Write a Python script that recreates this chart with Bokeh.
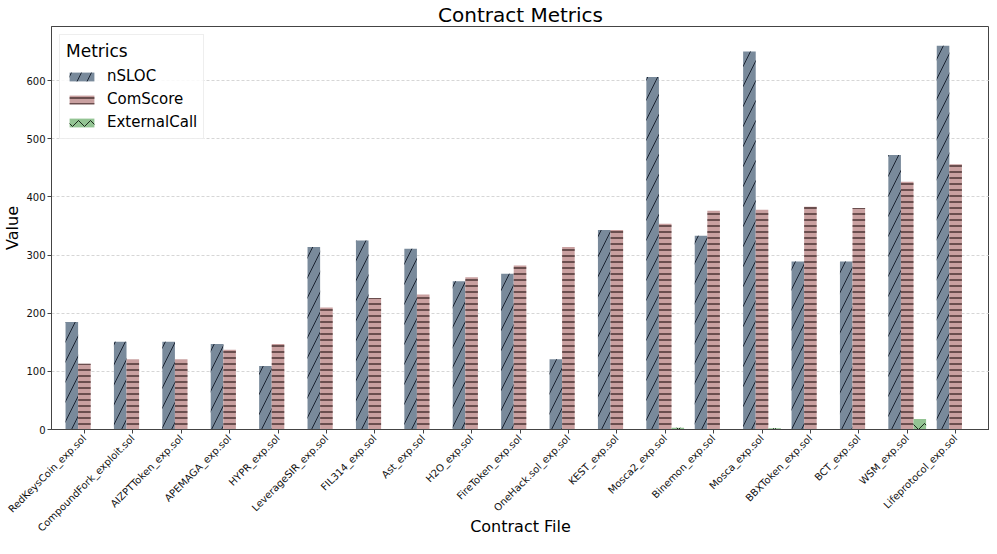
import math
from bokeh.plotting import figure
from bokeh.models import ColumnDataSource, FixedTicker, Range1d, Legend, LegendItem
from bokeh.transform import dodge
from bokeh.embed import file_html
from bokeh.resources import INLINE

files = ["RedKeysCoin_exp.sol", "CompoundFork_exploit.sol", "AIZPTToken_exp.sol",
         "APEMAGA_exp.sol", "HYPR_exp.sol", "LeverageSIR_exp.sol", "FIL314_exp.sol",
         "Ast_exp.sol", "H2O_exp.sol", "FireToken_exp.sol", "OneHack.sol_exp.sol",
         "KEST_exp.sol", "Mosca2_exp.sol", "Binemon_exp.sol", "Mosca_exp.sol",
         "BBXToken_exp.sol", "BCT_exp.sol", "WSM_exp.sol", "Lifeprotocol_exp.sol"]
nsloc = [185, 151, 151, 147, 109, 314, 325, 311, 255, 268, 121, 343, 606, 333, 650, 289, 289, 472, 660]
comscore = [113, 121, 121, 137, 147, 210, 226, 232, 262, 282, 314, 343, 354, 376, 378, 383, 381, 426, 456]
external = [0, 0, 0, 0, 0, 0, 0, 0, 0, 0, 0, 0, 3, 0, 2, 0, 0, 18, 0]
y_ticks = [0, 100, 200, 300, 400, 500, 600]

FONT = "DejaVu Sans"
w = 0.26
x0, x1 = -0.68, len(files) - 1 + 0.7

src = ColumnDataSource(dict(x=list(range(len(files))), nsloc=nsloc, comscore=comscore, external=external))

p = figure(width=989, height=538, output_backend="svg", toolbar_location=None,
           x_range=Range1d(x0, x1), y_range=Range1d(0, 693),
           title="Contract Metrics", min_border_right=0, min_border_top=0,
           min_border_left=0, min_border_bottom=0)

p.title.align = "center"
p.title.text_font = FONT
p.title.text_font_size = "20px"
p.title.text_font_style = "normal"
p.title.text_color = "#000000"
p.title.standoff = 0

r1 = p.vbar(x=dodge("x", -w, range=p.x_range), top="nsloc", width=w, source=src,
            fill_color="#798a9b", line_color=None,
            hatch_pattern="/", hatch_color="#1a2230", hatch_scale=20, hatch_weight=1)
r2 = p.vbar(x="x", top="comscore", width=w, source=src,
            fill_color="#c9a0a0", line_color=None,
            hatch_pattern="-", hatch_color="#2a1515", hatch_scale=6, hatch_weight=1.2)
r3 = p.vbar(x=dodge("x", w, range=p.x_range), top="external", width=w, source=src,
            fill_color="#93c493", line_color=None,
            hatch_pattern="v", hatch_color="#1a2a1a", hatch_scale=12, hatch_weight=1)

legend = Legend(items=[LegendItem(label="nSLOC", renderers=[r1]),
                       LegendItem(label="ComScore", renderers=[r2]),
                       LegendItem(label="ExternalCall", renderers=[r3])],
                location="top_left", title="Metrics", margin=8, padding=6,
                glyph_width=31, glyph_height=11, label_height=20, spacing=3,
                label_standoff=10, border_line_color="#dddddd", border_line_width=1,
                background_fill_alpha=0.85)
legend.title_text_font = FONT
legend.title_text_font_size = "17px"
legend.title_text_font_style = "normal"
legend.title_text_color = "#000000"
legend.label_text_font = FONT
legend.label_text_font_size = "15px"
legend.label_text_color = "#000000"
p.add_layout(legend)

p.xaxis.ticker = FixedTicker(ticks=list(range(len(files))))
p.xaxis.major_label_overrides = {i: f for i, f in enumerate(files)}
p.xaxis.major_label_orientation = math.pi / 4
p.xaxis.major_label_text_font = FONT
p.xaxis.major_label_text_font_size = "10px"
p.xaxis.axis_label = "Contract File"
p.yaxis.ticker = FixedTicker(ticks=y_ticks)
p.yaxis.major_label_text_font = FONT
p.yaxis.major_label_text_font_size = "10px"
p.yaxis.axis_label = "Value"

for ax in (p.xaxis, p.yaxis):
    ax.axis_label_text_font = FONT
    ax.axis_label_text_font_size = "16px"
    ax.axis_label_text_font_style = "normal"
    ax.minor_tick_line_color = None
    ax.major_tick_out = 4
    ax.major_tick_in = 0
    ax.axis_line_color = "#444444"
    ax.major_tick_line_color = "#444444"
    ax.major_label_text_color = "#111111"
    ax.axis_label_text_color = "#000000"
    ax.major_label_standoff = 3

p.yaxis.axis_label_standoff = 1
p.yaxis.major_label_standoff = 2
p.xaxis.axis_label_standoff = -24

p.xgrid.visible = False
p.ygrid.grid_line_color = "#cccccc"
p.ygrid.grid_line_dash = "3 2"
p.ygrid.grid_line_width = 0.8
p.outline_line_color = "#444444"
p.outline_line_width = 1

open("out.html", "w").write(file_html(p, INLINE))
